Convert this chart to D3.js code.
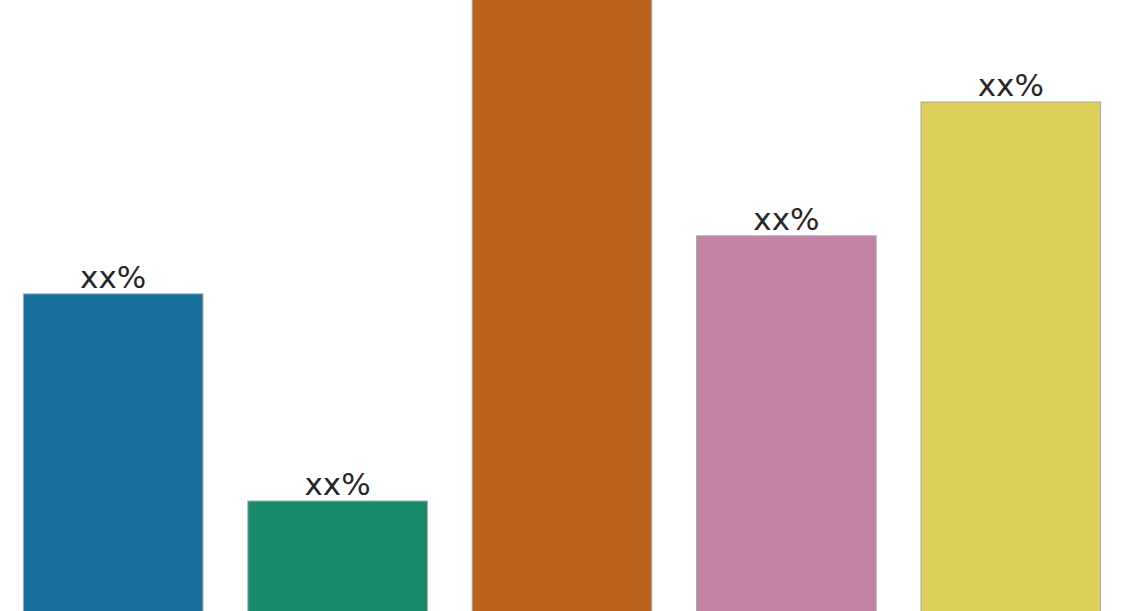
<!DOCTYPE html>
<html>
<head>
<meta charset="utf-8">
<script src="https://cdn.jsdelivr.net/npm/d3@7"></script>
<style>
  html, body { margin: 0; padding: 0; background: #fff; overflow: hidden; }
  .bar-label { font-family: "DejaVu Sans", sans-serif; font-size: 31px; fill: #262626; }
</style>
</head>
<body>
<div id="chart"></div>
<script>
// data
const categories = ["A", "B", "C", "D", "E"];
const values = [51.9, 18.0, 108, 61.4, 83.3];
const labels = ["xx%", "xx%", "xx%", "xx%", "xx%"];
const colors = ["#176d9c", "#168a6a", "#ba611b", "#c182a5", "#dbd15a"];

const width = 1123;
const height = 611;

const svg = d3.select("#chart")
  .append("svg")
  .attr("width", width)
  .attr("height", height);

// scales
const xScale = d3.scaleBand()
  .domain(categories)
  .range([1, 1123])
  .paddingInner(0.2)
  .paddingOuter(0.1);

const yScale = d3.scaleLinear()
  .domain([0, 100])
  .range([height, 0]);

const data = categories.map((c, i) => ({ cat: c, value: values[i], label: labels[i], color: colors[i] }));

svg.selectAll("rect.bar")
  .data(data)
  .enter()
  .append("rect")
  .attr("class", "bar")
  .attr("x", (d) => xScale(d.cat))
  .attr("y", (d) => yScale(d.value))
  .attr("width", xScale.bandwidth())
  .attr("height", (d) => yScale(0) - yScale(d.value) + 5)
  .attr("fill", (d) => d.color)
  .attr("stroke", "#a6a6a6")
  .attr("stroke-width", 1);

// labels above bars (the tallest one runs off the top)
svg.selectAll("text.bar-label")
  .data(data.filter((d) => d.value <= 100))
  .enter()
  .append("text")
  .attr("class", "bar-label")
  .attr("x", (d) => xScale(d.cat) + xScale.bandwidth() / 2)
  .attr("y", (d) => yScale(d.value) - 6)
  .attr("text-anchor", "middle")
  .text((d) => d.label);
</script>
</body>
</html>
